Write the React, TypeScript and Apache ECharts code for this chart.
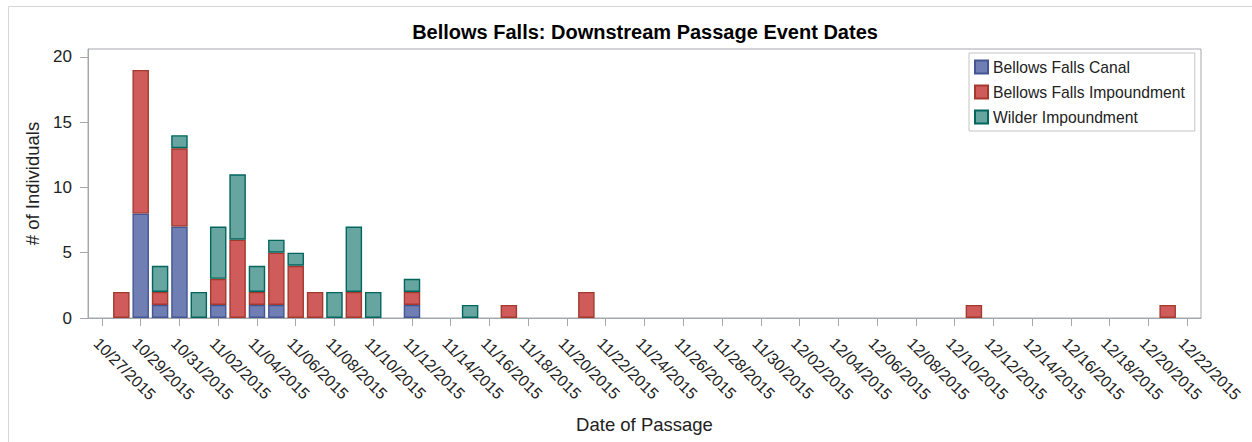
import React, { useEffect, useRef } from "react";
import * as echarts from "echarts";

const chartTitle = "Bellows Falls: Downstream Passage Event Dates";
const xTitle = "Date of Passage";
const yTitle = "# of Individuals";

const seriesNames = ["Bellows Falls Canal", "Bellows Falls Impoundment", "Wilder Impoundment"];

const passageDates = [
  "10/28/2015", "10/29/2015", "10/30/2015", "10/31/2015", "11/01/2015",
  "11/02/2015", "11/03/2015", "11/04/2015", "11/05/2015", "11/06/2015",
  "11/07/2015", "11/08/2015", "11/09/2015", "11/10/2015", "11/12/2015",
  "11/15/2015", "11/17/2015", "11/21/2015", "12/11/2015", "12/21/2015",
];
const canalCounts =       [0, 8, 1, 7, 0, 1, 0, 1, 1, 0, 0, 0, 0, 0, 1, 0, 0, 0, 0, 0];
const bfImpoundCounts =   [2, 11, 1, 6, 0, 2, 6, 1, 4, 4, 2, 0, 2, 0, 1, 0, 1, 2, 1, 1];
const wilderCounts =      [0, 0, 2, 1, 2, 4, 5, 2, 1, 1, 0, 2, 5, 2, 1, 1, 0, 0, 0, 0];

const tickDates = [
  "10/27/2015", "10/29/2015", "10/31/2015", "11/02/2015", "11/04/2015", "11/06/2015",
  "11/08/2015", "11/10/2015", "11/12/2015", "11/14/2015", "11/16/2015", "11/18/2015",
  "11/20/2015", "11/22/2015", "11/24/2015", "11/26/2015", "11/28/2015", "11/30/2015",
  "12/02/2015", "12/04/2015", "12/06/2015", "12/08/2015", "12/10/2015", "12/12/2015",
  "12/14/2015", "12/16/2015", "12/18/2015", "12/20/2015", "12/22/2015",
];
const yTicks = [0, 5, 10, 15, 20];

const fills = ["#6F7EB3", "#D05B5B", "#66A5A0"];
const edges = ["#445694", "#A23A2E", "#01665E"];

const DAY = 86400000;
const parseDate = (s: string) => {
  const [m, d, y] = s.split("/").map(Number);
  return Date.UTC(y, m - 1, d);
};
const origin = parseDate(tickDates[0]);
const dayIdx = (s: string) => Math.round((parseDate(s) - origin) / DAY);
const tickIdx = tickDates.map(dayIdx);
const lastDay = tickIdx[tickIdx.length - 1];
const labelByIdx: Record<number, string> = {};
tickDates.forEach((t) => (labelByIdx[dayIdx(t)] = t));

// every calendar day of the axis, used as hidden bar categories
const dayCategories: number[] = [];
for (let d = 0; d <= lastDay; d++) dayCategories.push(d);

const FONT = "'Liberation Sans', Arial, sans-serif";
const AXIS = "#a4a8ad";
const W = 1252;
const GRID = { left: 88, right: 51, top: 49, bottom: 124 };
const PAD = 0.72; // days of padding on each side of the axis

export default function App() {
  const ref = useRef<HTMLDivElement>(null);
  useEffect(() => {
    if (!ref.current) return;
    const chart = echarts.init(ref.current, undefined, { renderer: "svg" });
    const counts = [canalCounts, bfImpoundCounts, wilderCounts];
    const pxPerDay = (W - GRID.left - GRID.right) / (lastDay + 2 * PAD);
    const inset = (PAD - 0.5) * pxPerDay;
    const series = seriesNames.map((name, i) => {
      const byDay: Record<number, number> = {};
      passageDates.forEach((d, k) => (byDay[dayIdx(d)] = counts[i][k]));
      return {
        name,
        type: "bar",
        stack: "total",
        xAxisIndex: 1,
        yAxisIndex: 1,
        barWidth: 16.5,
        itemStyle: { color: fills[i], borderColor: edges[i], borderWidth: 1.4 },
        data: dayCategories.map((d) => (byDay[d] ? byDay[d] : "-")),
      };
    });
    chart.setOption({
      animation: false,
      backgroundColor: "#ffffff",
      textStyle: { fontFamily: FONT },
      title: {
        text: chartTitle,
        left: 640,
        textAlign: "center",
        top: 17,
        textStyle: { fontSize: 20, fontWeight: "bold", color: "#000", fontFamily: FONT },
      },
      graphic: [
        {
          type: "rect",
          shape: { x: 8.5, y: 6.5, width: 1300, height: 500 },
          style: { fill: "none", stroke: "#d6d6d6", lineWidth: 1 },
          silent: true,
        },
      ],
      legend: {
        orient: "vertical",
        left: 969,
        top: 53,
        itemWidth: 13,
        itemHeight: 13,
        itemGap: 9,
        padding: [6, 10, 6, 5],
        borderColor: "#c4c4c4",
        borderWidth: 1,
        icon: "rect",
        selectedMode: false,
        textStyle: { fontSize: 15.7, color: "#222", fontFamily: FONT },
        data: seriesNames,
      },
      grid: [
        {
          ...GRID,
          show: true,
          borderColor: AXIS,
          borderWidth: 1,
          backgroundColor: "transparent",
        },
        {
          left: GRID.left + inset,
          right: GRID.right + inset,
          top: GRID.top,
          bottom: GRID.bottom,
        },
      ],
      xAxis: [
        {
          type: "value",
          gridIndex: 0,
          min: tickIdx[0] - PAD,
          max: lastDay + PAD,
          splitLine: { show: false },
          axisLine: { show: true, onZero: false, lineStyle: { color: AXIS, width: 1 } },
          axisTick: { show: true, length: 8, customValues: tickIdx, lineStyle: { color: AXIS } },
          axisLabel: {
            customValues: tickIdx,
            rotate: -45,
            margin: 17,
            verticalAlign: "top",
            fontSize: 16,
            color: "#222",
            fontFamily: FONT,
            formatter: (v: number) => labelByIdx[Math.round(v)] ?? "",
          },
          name: xTitle,
          nameLocation: "middle",
          nameGap: 97,
          nameTextStyle: { fontSize: 18.5, color: "#222", fontFamily: FONT },
        },
        {
          type: "category",
          gridIndex: 1,
          data: dayCategories,
          boundaryGap: true,
          show: false,
        },
      ],
      yAxis: [
        {
          type: "value",
          gridIndex: 0,
          min: 0,
          max: 20.6,
          splitLine: { show: false },
          axisLine: { show: true, onZero: false, lineStyle: { color: AXIS, width: 1 } },
          axisTick: { show: true, length: 8, customValues: yTicks, lineStyle: { color: AXIS } },
          axisLabel: {
            customValues: yTicks,
            margin: 16,
            fontSize: 17,
            color: "#222",
            fontFamily: FONT,
          },
          name: yTitle,
          nameLocation: "middle",
          nameRotate: 90,
          nameGap: 46,
          nameTextStyle: { fontSize: 18.5, color: "#222", fontFamily: FONT },
        },
        {
          type: "value",
          gridIndex: 1,
          min: 0,
          max: 20.6,
          show: false,
          splitLine: { show: false },
        },
      ],
      series,
    });
    return () => chart.dispose();
  }, []);
  return (
    <div
      ref={ref}
      style={{ position: "fixed", left: 0, top: 0, width: 1252, height: 442 }}
    />
  );
}
